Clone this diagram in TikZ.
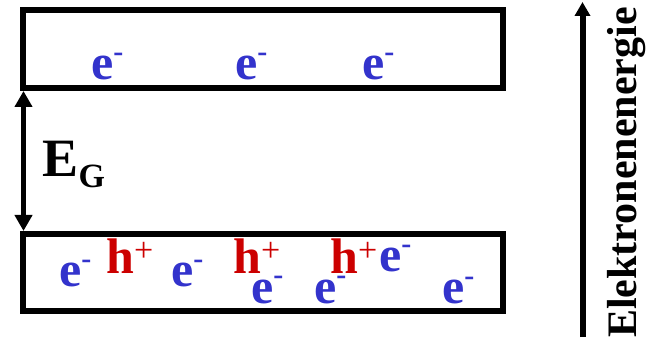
\documentclass[tikz,border=0pt]{standalone}
\usepackage{fontspec}
\setmainfont{Liberation Serif}
\usetikzlibrary{arrows.meta}
\definecolor{eblue}{RGB}{51,51,204}
\definecolor{hred}{RGB}{204,0,0}
\newcommand\elec{e\raisebox{18pt}{\fontsize{30}{30}\selectfont -}}
\newcommand\hole{h\raisebox{11pt}{\fontsize{34}{34}\selectfont\mdseries +}}
\tikzset{
  band/.style={draw, line width=6pt, minimum width=480pt, inner sep=0pt},
  carrier/.style={anchor=base west, inner sep=0pt, font=\fontsize{50}{50}\selectfont\bfseries},
  electron/.style={carrier, text=eblue},
  holep/.style={carrier, text=hred},
  gaparrow/.style={line width=5pt, {Triangle[length=16pt,width=17pt]}-{Triangle[length=16pt,width=17pt]}},
  energyarrow/.style={line width=6pt, -{Triangle[length=14pt,width=15pt]}}
}
\begin{document}
\begin{tikzpicture}[x=1pt,y=-1pt]
\useasboundingbox (0,0) rectangle (651,339);
\node[band, minimum height=78pt] (top) at (263,49) {};
\node[band, minimum height=77pt] (bot) at (263,272.5) {};
% conduction band electrons
\node[electron] (c1) at (91,80) {\elec};
\node[electron] (c2) at (235,80) {\elec};
\node[electron] (c3) at (362,80) {\elec};
% valence band
\node[electron] (v1) at (59,287) {\elec};
\node[holep] (h1) at (106,273) {\hole};
\node[electron] (v2) at (171,287) {\elec};
\node[holep] (h2) at (233,273) {\hole};
\node[electron] (v3) at (251,303) {\elec};
\node[electron] (v4) at (314,303) {\elec};
\node[holep] (h3) at (330,273) {\hole};
\node[electron] (v5) at (379,272) {\elec};
\node[electron] (v6) at (442,304) {\elec};
% band gap
\draw[gaparrow] ([xshift=3.5pt]top.south west) -- ([xshift=3.5pt]bot.north west);
\node[anchor=base west, inner sep=0pt, font=\fontsize{54}{54}\selectfont\bfseries] (eg) at (42,177) {E};
\node[anchor=base west, inner sep=0pt, font=\fontsize{34}{34}\selectfont\bfseries] (g) at (eg.base east) [yshift=-11pt] {G};
% energy axis
\coordinate (ea) at (582.5,337);
\coordinate (eb) at (582.5,2);
\draw[energyarrow] (ea) -- (eb);
\node[anchor=base west, rotate=90, inner sep=0pt, font=\fontsize{42}{42}\selectfont\bfseries] (lab) at (636,338) {Elektronenenergie};
\end{tikzpicture}
\end{document}
